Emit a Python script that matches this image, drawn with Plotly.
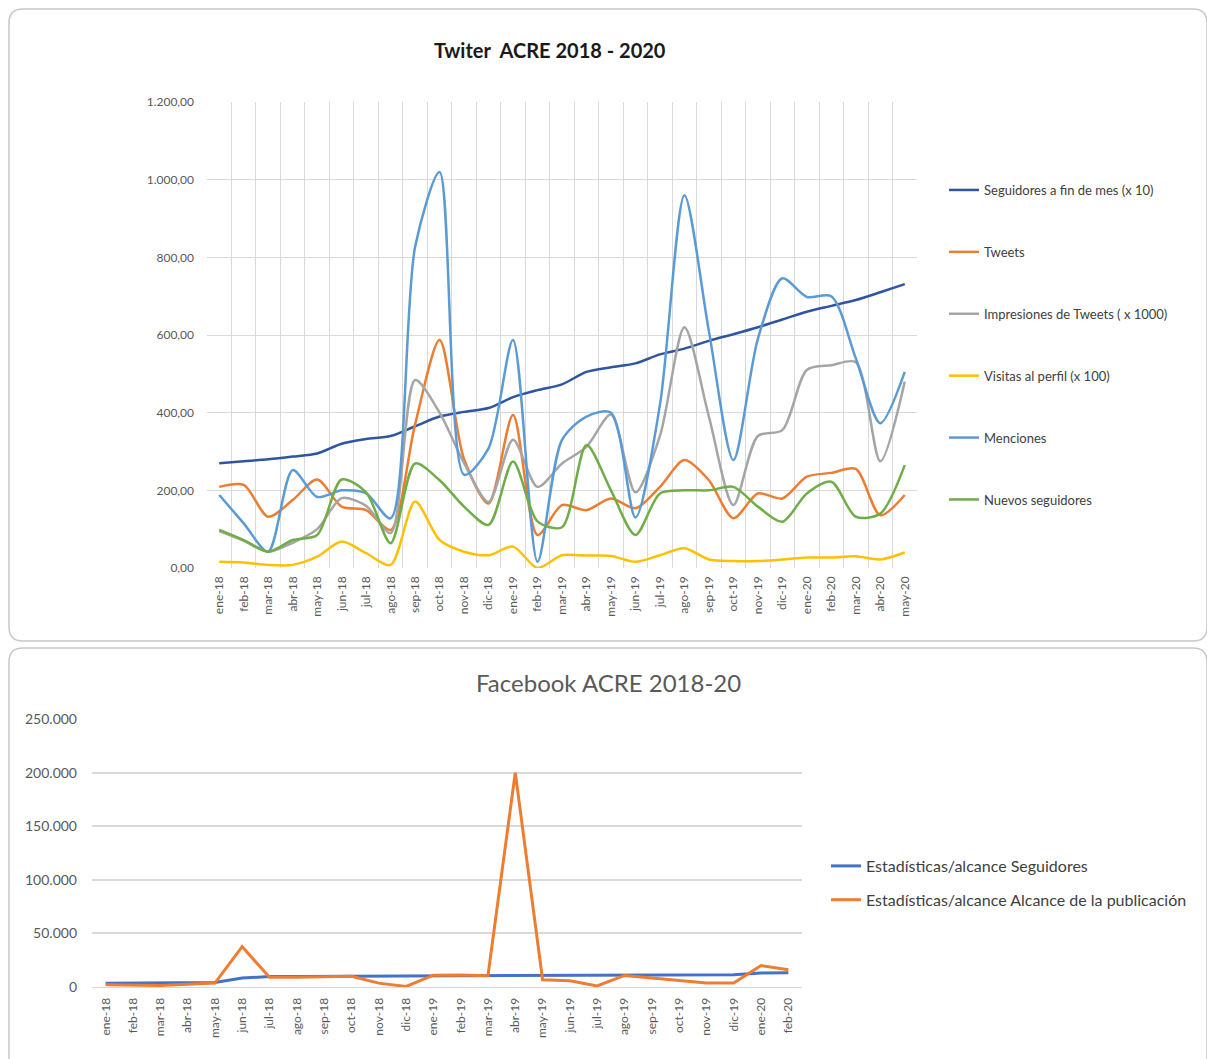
import plotly.graph_objects as go

# ---------------- Data: Twitter ----------------
months_tw = ["ene-18", "feb-18", "mar-18", "abr-18", "may-18", "jun-18", "jul-18", "ago-18",
             "sep-18", "oct-18", "nov-18", "dic-18", "ene-19", "feb-19", "mar-19", "abr-19",
             "may-19", "jun-19", "jul-19", "ago-19", "sep-19", "oct-19", "nov-19", "dic-19",
             "ene-20", "feb-20", "mar-20", "abr-20", "may-20"]

seguidores = [270, 275, 280, 287, 295, 320, 332, 340, 365, 390, 402, 412, 440, 458, 473,
              505, 517, 527, 550, 565, 585, 602, 620, 640, 660, 675, 690, 710, 731]
tweets = [209, 214, 132, 175, 228, 158, 149, 98, 370, 587, 280, 166, 394, 85, 162,
          149, 179, 154, 209, 278, 226, 128, 192, 179, 235, 245, 255, 136, 188]
impresiones = [95, 70, 42, 65, 100, 180, 160, 90, 484, 400, 270, 170, 330, 209, 269,
               312, 395, 195, 340, 620, 390, 162, 340, 355, 510, 522, 530, 275, 480]
visitas = [16, 14, 8, 8, 29, 68, 38, 8, 171, 72, 42, 33, 55, 0, 33,
           32, 31, 16, 33, 51, 22, 18, 18, 22, 27, 27, 30, 22, 40]
menciones = [188, 115, 42, 252, 183, 200, 192, 128, 827, 1020, 240, 308, 587, 16, 330,
             390, 400, 130, 420, 960, 610, 278, 590, 746, 698, 700, 540, 373, 505]
nuevos = [98, 72, 42, 72, 85, 228, 195, 64, 269, 226, 158, 111, 274, 120, 105,
          317, 200, 85, 192, 200, 200, 209, 158, 119, 192, 222, 132, 140, 265]

tw_names = ["Seguidores a fin de mes (x 10)", "Tweets", "Impresiones de Tweets ( x 1000)",
            "Visitas al perfil (x 100)", "Menciones", "Nuevos seguidores"]
tw_colors = ["#2F55A0", "#ED7D31", "#A5A5A5", "#FFC000", "#5B9BD5", "#70AD47"]
tw_ticks = [0, 200, 400, 600, 800, 1000, 1200]
tw_ticktext = ["0,00", "200,00", "400,00", "600,00", "800,00", "1.000,00", "1.200,00"]

# ---------------- Data: Facebook ----------------
months_fb = ["ene-18", "feb-18", "mar-18", "abr-18", "may-18", "jun-18", "jul-18", "ago-18",
             "sep-18", "oct-18", "nov-18", "dic-18", "ene-19", "feb-19", "mar-19", "abr-19",
             "may-19", "jun-19", "jul-19", "ago-19", "sep-19", "oct-19", "nov-19", "dic-19",
             "ene-20", "feb-20"]
fb_seguidores = [3400, 3500, 3600, 3800, 4200, 8300, 9800, 9900, 10000, 10100, 10200, 10300,
                 10400, 10500, 10600, 10700, 10800, 10900, 11000, 11100, 11200, 11300, 11400,
                 11500, 13000, 13200]
fb_alcance = [2100, 2000, 1500, 2500, 3700, 37600, 9000, 9000, 9500, 10000, 3600, 500,
              11000, 11100, 10500, 200000, 6800, 5800, 1000, 10800, 8300, 5800, 3700, 3700,
              20000, 16000]
fb_names = ["Estadísticas/alcance Seguidores",
            "Estadísticas/alcance Alcance de la publicación"]
fb_colors = ["#4472C4", "#ED7D31"]
fb_ticks = [0, 50000, 100000, 150000, 200000, 250000]
fb_ticktext = ["0", "50.000", "100.000", "150.000", "200.000", "250.000"]

# The page body has an 8px margin, so the figure starts at (8, 8) of the window.
OFF = 8
W, H = 1215 - OFF, 1059 - OFF
FONT = "Lato, 'Open Sans', sans-serif"


def px_x(p):
    return (p - OFF) / W


def px_y(p):
    return 1 - (p - OFF) / H


fig = go.Figure()

tw_series = [seguidores, tweets, impresiones, visitas, menciones, nuevos]
for i, (name, vals, col) in enumerate(zip(tw_names, tw_series, tw_colors)):
    fig.add_trace(go.Scatter(
        x=months_tw, y=vals, name=name, mode="lines",
        line=dict(color=col, width=2.5, shape="spline", smoothing=0.8),
        xaxis="x", yaxis="y", legend="legend", legendgroup=f"tw{i}",
    ))

for i, (name, vals, col) in enumerate(zip(fb_names, [fb_seguidores, fb_alcance], fb_colors)):
    fig.add_trace(go.Scatter(
        x=months_fb, y=vals, name=name, mode="lines",
        line=dict(color=col, width=3),
        xaxis="x2", yaxis="y2", legend="legend2", legendgroup=f"fb{i}",
    ))

grid = "#D9D9D9"
tickfont_top = dict(family=FONT, size=12, color="#595959")

fig.update_layout(
    width=W, height=H,
    margin=dict(l=0, r=0, t=0, b=0, pad=0, autoexpand=False),
    paper_bgcolor="white", plot_bgcolor="white",
    font=dict(family=FONT, color="#595959"),
    xaxis=dict(
        domain=[px_x(207), px_x(917)], anchor="y",
        type="category", range=[-0.5, len(months_tw) - 0.5],
        tickson="boundaries", showgrid=True, gridcolor=grid, gridwidth=1,
        tickangle=-90, tickfont=tickfont_top, ticks="", showline=False, zeroline=False,
        ticklabelstandoff=5, automargin=False,
    ),
    yaxis=dict(
        domain=[px_y(568), px_y(102)], anchor="x",
        range=[0, 1200], tickvals=tw_ticks, ticktext=tw_ticktext,
        showgrid=True, gridcolor=grid, gridwidth=1, zeroline=False, showline=False,
        tickfont=tickfont_top, ticks="", ticklabelstandoff=12, automargin=False,
    ),
    xaxis2=dict(
        domain=[px_x(92), px_x(802)], anchor="y2",
        type="category", range=[-0.5, len(months_fb) - 0.5],
        showgrid=False, tickangle=-90,
        tickfont=dict(family=FONT, size=12, color="#595959"), ticks="",
        showline=True, linecolor=grid, linewidth=1, zeroline=False,
        ticklabelstandoff=5, automargin=False,
    ),
    yaxis2=dict(
        domain=[px_y(987), px_y(719)], anchor="x2",
        range=[0, 250000], tickvals=fb_ticks, ticktext=fb_ticktext,
        showgrid=True, gridcolor=grid, gridwidth=1.5, zeroline=False, showline=False,
        tickfont=dict(family=FONT, size=14, color="#595959"), ticks="", ticklabelstandoff=14,
        automargin=False,
    ),
    legend=dict(
        x=px_x(944), y=px_y(175), xanchor="left", yanchor="top",
        font=dict(family=FONT, size=13, color="#404040"),
        tracegroupgap=42, itemwidth=30, bgcolor="rgba(0,0,0,0)",
    ),
    legend2=dict(
        x=px_x(826), y=px_y(849), xanchor="left", yanchor="top",
        font=dict(family=FONT, size=16, color="#404040"),
        tracegroupgap=10, itemwidth=30, bgcolor="rgba(0,0,0,0)",
    ),
    showlegend=True,
)

fig.add_annotation(
    text="Twiter  ACRE 2018 - 2020", x=px_x(550), y=px_y(50), xref="paper", yref="paper",
    showarrow=False, xanchor="center", yanchor="middle",
    font=dict(family=FONT, size=20, color="#1a1a1a", weight="bold"),
)
fig.add_annotation(
    text="Facebook ACRE 2018-20", x=px_x(608), y=px_y(682), xref="paper", yref="paper",
    showarrow=False, xanchor="center", yanchor="middle",
    font=dict(family=FONT, size=24, color="#595959"),
)

# Chart frames (rounded borders)
def rounded_path(x0p, y0p, x1p, y1p, r):
    x0, x1 = px_x(x0p), px_x(x1p)
    yt, yb = px_y(y0p), px_y(y1p)
    rx, ry = r / W, r / H
    return (f"M {x0+rx},{yt} L {x1-rx},{yt} Q {x1},{yt} {x1},{yt-ry} "
            f"L {x1},{yb+ry} Q {x1},{yb} {x1-rx},{yb} L {x0+rx},{yb} "
            f"Q {x0},{yb} {x0},{yb+ry} L {x0},{yt-ry} Q {x0},{yt} {x0+rx},{yt} Z")


fig.add_shape(type="path", xref="paper", yref="paper",
              path=rounded_path(9, 9, 1207, 641, 14),
              line=dict(color="#C8C8C8", width=1.5), layer="below")
fig.add_shape(type="path", xref="paper", yref="paper",
              path=rounded_path(9, 648, 1207, 1075, 14),
              line=dict(color="#C8C8C8", width=1.5), layer="below")

fig.write_html("out.html")
